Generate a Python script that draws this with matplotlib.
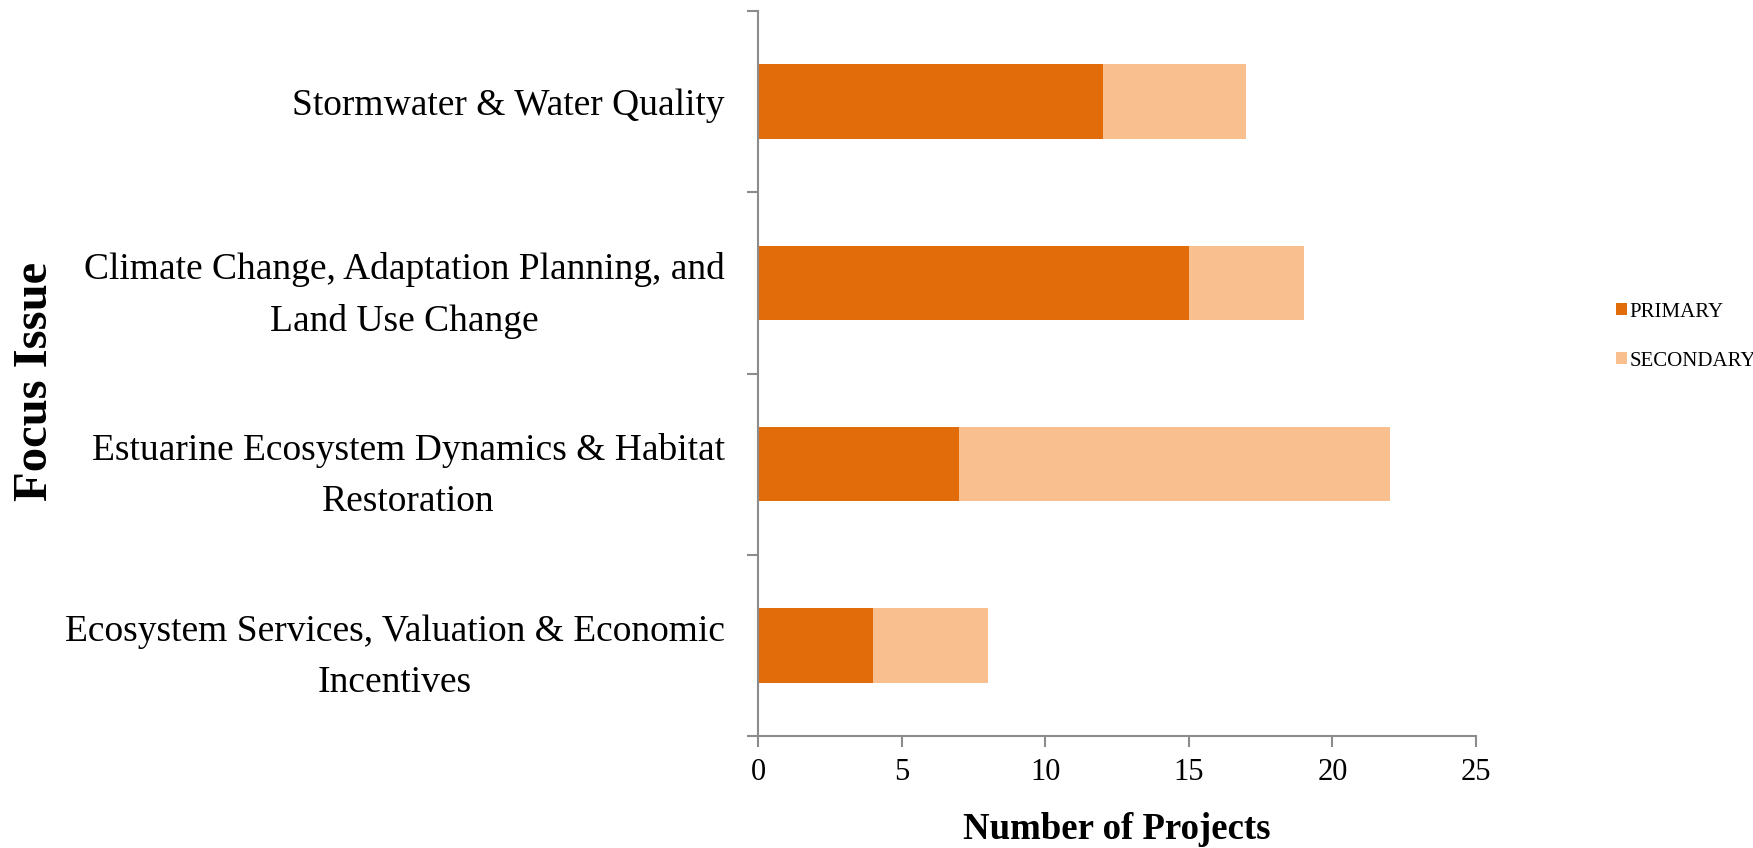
import numpy as np
import matplotlib.pyplot as plt
from matplotlib.ticker import FixedLocator

# focus issues, listed top to bottom
issues = ['Stormwater & Water Quality',
          'Climate Change, Adaptation Planning, and\nLand Use Change',
          'Estuarine Ecosystem Dynamics & Habitat\nRestoration',
          'Ecosystem Services, Valuation & Economic\nIncentives']
primary = [12, 15, 7, 4]
secondary = [5, 4, 15, 4]
x_ticks = [0, 5, 10, 15, 20, 25]

plt.rcParams['font.family'] = ['Liberation Serif', 'DejaVu Serif']
axis_grey = '#8c8c8c'

fig = plt.figure(figsize=(17.53, 8.48), dpi=100)
ax = fig.add_axes([0.4324, 0.132, 0.4096, 0.855])

pos = np.arange(len(issues))[::-1]
ax.barh(pos, primary, height=0.41, color='#E36C0A', label='PRIMARY')
ax.barh(pos, secondary, left=primary, height=0.41, color='#F9BF8F', label='SECONDARY')

ax.set_ylim(-0.5, len(issues) - 0.5)
ax.set_xlim(0, 25)
ax.set_xticks(x_ticks)
ax.set_yticks(pos)
ax.set_yticklabels(issues, fontsize=27, multialignment='center', linespacing=1.62)
ax.yaxis.set_minor_locator(FixedLocator(np.arange(-0.5, len(issues), 1.0)))
ax.tick_params(axis='y', which='major', length=0, pad=24)
ax.tick_params(axis='y', which='minor', length=8, color=axis_grey, width=1.5)
ax.tick_params(axis='x', labelsize=22, length=8, color=axis_grey, width=1.5, pad=8)

for side in ['top', 'right']:
    ax.spines[side].set_visible(False)
for side in ['left', 'bottom']:
    ax.spines[side].set_color(axis_grey)
    ax.spines[side].set_linewidth(1.5)

ax.set_xlabel('Number of Projects', fontsize=26.5, fontweight='bold', labelpad=18)
fig.text(0.02, 0.55, 'Focus Issue', rotation=90, fontsize=35, fontweight='bold',
         ha='center', va='center')

fig.legend(loc='center left', bbox_to_anchor=(0.922, 0.603), frameon=False,
           fontsize=15, handlelength=0.5, handleheight=0.5, handletextpad=0.15,
           labelspacing=1.45, borderaxespad=0, borderpad=0)

fig.savefig('out.png', dpi=100)
